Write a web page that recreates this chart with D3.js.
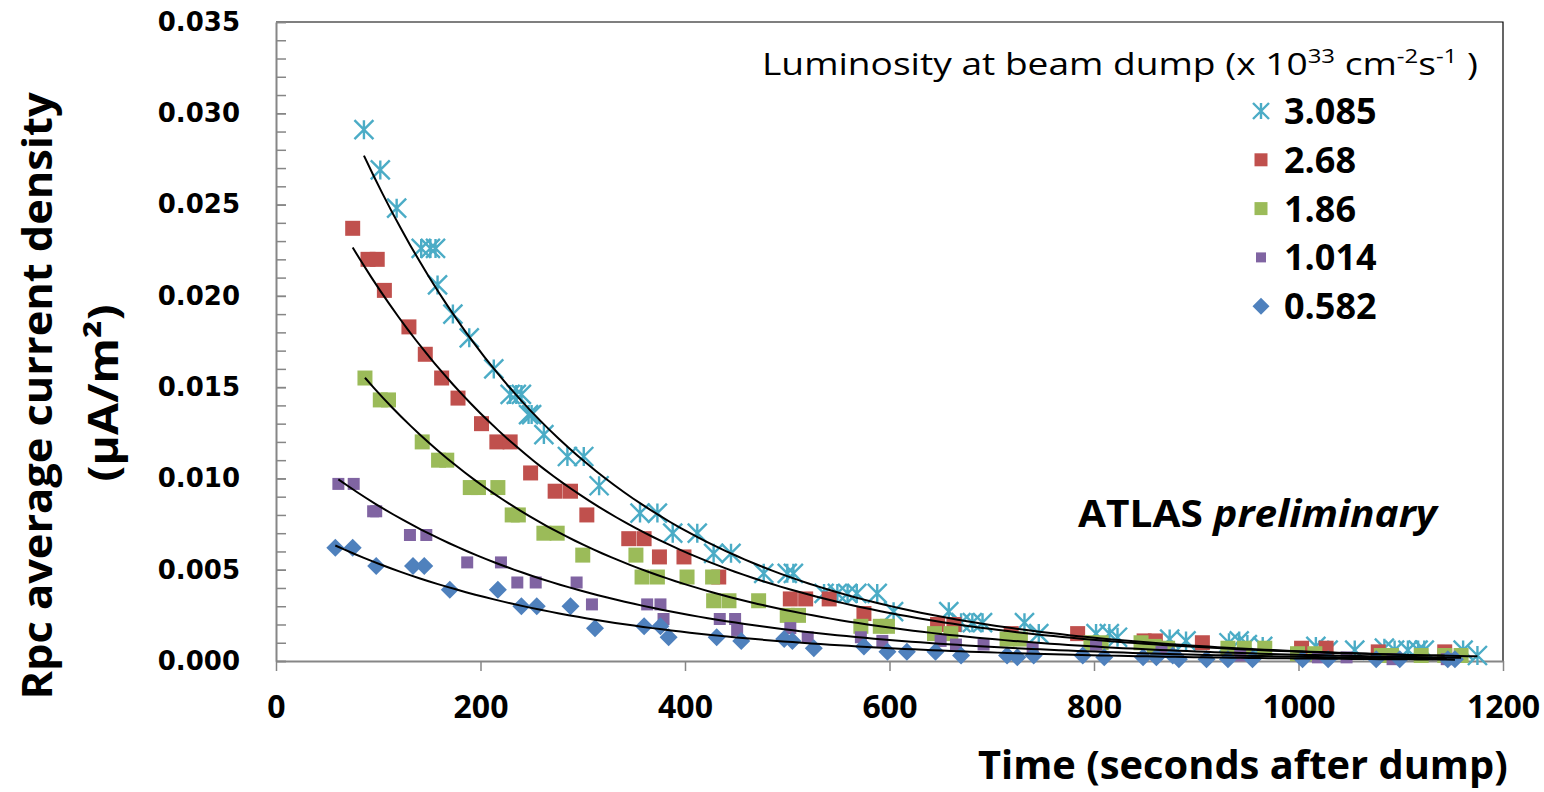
<!DOCTYPE html>
<html>
<head>
<meta charset="utf-8">
<script src="https://cdn.jsdelivr.net/npm/d3@7"></script>
<style>
  body { margin: 0; background: #fff; }
  svg { display: block; }
</style>
</head>
<body>
<svg id="chart" width="1544" height="792"></svg>
<script>
// series names (luminosity at beam dump, x 10^33 cm^-2 s^-1)
const seriesNames = ["3.085", "2.68", "1.86", "1.014", "0.582"];

// [time (s), current density (uA/m2)]
const lum3085 = [
  [86, 0.0291], [102, 0.0269], [118, 0.0248], [142, 0.0226], [151, 0.0226], [156, 0.0226],
  [158, 0.0206], [173, 0.0190], [189, 0.0177], [213, 0.0160], [229, 0.0146], [235, 0.0146],
  [240, 0.0146], [247, 0.0135], [250, 0.0135], [262, 0.0124], [285, 0.0112], [301, 0.0112],
  [316, 0.0096], [356, 0.0081], [373, 0.0081], [388, 0.0070], [412, 0.0070], [428, 0.0059],
  [445, 0.0059], [477, 0.0048], [500, 0.0048], [506, 0.0048], [536, 0.0037], [549, 0.0037],
  [559, 0.0037], [568, 0.0037], [588, 0.0037], [604, 0.0027], [658, 0.0027], [670, 0.0021],
  [681, 0.0021], [691, 0.0021], [732, 0.0021], [746, 0.0015], [802, 0.0015], [815, 0.0015],
  [823, 0.0013], [874, 0.0012], [890, 0.0011], [932, 0.0010], [942, 0.0011], [950, 0.0009],
  [965, 0.0008], [1017, 0.0008], [1029, 0.0006], [1055, 0.0006], [1084, 0.0007], [1094, 0.0006],
  [1107, 0.0006], [1117, 0.0006], [1123, 0.0006], [1161, 0.0006], [1175, 0.0003]
];
const lum268 = [
  [75, 0.0237], [90, 0.0220], [99, 0.0220], [106, 0.0203], [130, 0.0183], [146, 0.0168],
  [162, 0.0155], [178, 0.0144], [201, 0.0130], [216, 0.0120], [229, 0.0120], [249, 0.0103],
  [273, 0.0093], [288, 0.0093], [304, 0.0080], [345, 0.0067], [360, 0.0067], [375, 0.0057],
  [399, 0.0057], [433, 0.0046], [503, 0.0034], [518, 0.0034], [541, 0.0034], [575, 0.0026],
  [647, 0.0020], [663, 0.0020], [719, 0.0015], [784, 0.0015], [849, 0.0011], [860, 0.0011],
  [906, 0.0010], [1003, 0.0007], [1027, 0.0007], [1078, 0.0005], [1143, 0.0005]
];
const lum186 = [
  [87, 0.0155], [102, 0.0143], [110, 0.0143], [143, 0.0120], [159, 0.0110], [167, 0.0110],
  [190, 0.0095], [198, 0.0095], [217, 0.0095], [231, 0.0080], [237, 0.0080], [262, 0.0070],
  [275, 0.0070], [300, 0.0058], [352, 0.0058], [358, 0.0046], [373, 0.0046], [402, 0.0046],
  [427, 0.0046], [428, 0.0033], [443, 0.0033], [472, 0.0033], [500, 0.0025], [511, 0.0025],
  [572, 0.0019], [591, 0.0019], [598, 0.0019], [644, 0.0015], [660, 0.0015], [715, 0.0012],
  [728, 0.0012], [797, 0.0010], [807, 0.0010], [846, 0.0010], [859, 0.0008], [872, 0.0007],
  [931, 0.0007], [947, 0.0007], [967, 0.0007], [999, 0.0004], [1016, 0.0004], [1081, 0.0003],
  [1091, 0.0003], [1120, 0.0003], [1143, 0.0003], [1159, 0.0003]
];
const lum1014 = [
  [61, 0.0097], [76, 0.0097], [95, 0.0082], [98, 0.0082], [131, 0.0069], [147, 0.0069],
  [187, 0.0054], [220, 0.0054], [236, 0.0043], [254, 0.0043], [294, 0.0043], [309, 0.0031],
  [363, 0.0031], [376, 0.0031], [379, 0.0023], [434, 0.0023], [449, 0.0023], [451, 0.0017],
  [503, 0.0018], [520, 0.0013], [572, 0.0013], [593, 0.0011], [650, 0.0011], [665, 0.0009],
  [692, 0.0009], [740, 0.0007], [802, 0.0009], [866, 0.0005], [943, 0.0003], [1019, 0.0002],
  [1047, 0.0002], [1092, 0.0001], [1145, 0.0001]
];
const lum0582 = [
  [58, 0.0062], [75, 0.0062], [98, 0.0052], [134, 0.0052], [145, 0.0052], [170, 0.0039],
  [217, 0.0039], [240, 0.0030], [255, 0.0030], [288, 0.0030], [312, 0.0018], [360, 0.0019],
  [376, 0.0019], [384, 0.0013], [431, 0.0013], [455, 0.0011], [497, 0.0012], [505, 0.0011],
  [526, 0.0007], [575, 0.0008], [598, 0.0005], [617, 0.0005], [645, 0.0005], [670, 0.0003],
  [715, 0.0003], [725, 0.0002], [741, 0.0003], [789, 0.0003], [810, 0.0002], [848, 0.0002],
  [861, 0.0002], [877, 0.0003], [883, 0.0001], [910, 0.0001], [931, 0.0001], [955, 0.0001],
  [1004, 0.0001], [1029, 0.0001], [1076, 0.0001], [1099, 0.0001], [1146, 0.0001], [1153, 0.0001]
];

// exponential trendline y = a * exp(-b * t)
const fitA = [0.0401, 0.0308, 0.0223, 0.0127, 0.0080];
const fitB = [0.00431, 0.0041, 0.00417, 0.0040, 0.00405];

const xTicks = [0, 200, 400, 600, 800, 1000, 1200];
const yTicks = [0, 0.005, 0.01, 0.015, 0.02, 0.025, 0.03, 0.035];

const colors = ["#4BACC6", "#C0504D", "#9BBB59", "#8064A2", "#4F81BD"];
const shapes = ["star", "square", "square", "square", "diamond"];
const sizes = [19, 15, 15, 12, 18];
const allSeries = [lum3085, lum268, lum186, lum1014, lum0582];

const svg = d3.select("#chart");
const plot = { left: 276, right: 1503, top: 22, bottom: 661 };

const x = d3.scaleLinear().domain([0, 1200]).range([plot.left, plot.right]);
const y = d3.scaleLinear().domain([0, 0.035]).range([plot.bottom, plot.top]);

svg.append("rect").attr("width", 1544).attr("height", 792).attr("fill", "#fff");

// plot frame (top + right)
svg.append("path")
  .attr("d", `M${plot.left},${plot.top}H${plot.right}V${plot.bottom}`)
  .attr("fill", "none").attr("stroke", "#000").attr("stroke-width", 1.2);

// minor y ticks
const yMinor = svg.append("g")
  .attr("transform", `translate(${plot.left},0)`)
  .call(d3.axisLeft(y).tickValues(d3.range(0, 36).map(i => i / 1000)).tickSize(-10).tickSizeOuter(0).tickFormat(""));
yMinor.select(".domain").remove();
yMinor.selectAll("line").attr("stroke", "#868686").attr("stroke-width", 1.5);

// y axis
const yAxis = svg.append("g")
  .attr("transform", `translate(${plot.left},0)`)
  .call(d3.axisLeft(y).tickValues(yTicks).tickSize(-10).tickSizeOuter(0).tickPadding(36).tickFormat(d3.format(".3f")));
yAxis.select(".domain").attr("stroke", "#868686").attr("stroke-width", 2);
yAxis.selectAll("line").attr("stroke", "#868686").attr("stroke-width", 1.5);
yAxis.selectAll("text")
  .attr("font-family", "DejaVu Sans").attr("font-weight", "bold").attr("font-size", 26)
  .attr("fill", "#000");

// x axis
const xAxis = svg.append("g")
  .attr("transform", `translate(0,${plot.bottom})`)
  .call(d3.axisBottom(x).tickValues(xTicks).tickSize(10).tickSizeOuter(0).tickFormat(d3.format("d")));
xAxis.select(".domain").attr("stroke", "#868686").attr("stroke-width", 2);
xAxis.selectAll("line").attr("stroke", "#868686").attr("stroke-width", 1.5);
xAxis.selectAll("text")
  .attr("y", 57).attr("dy", null)
  .attr("font-family", "Open Sans").attr("font-weight", "bold").attr("font-size", 32)
  .attr("fill", "#000");

function symbolPath(shape, s) {
  const r = s / 2;
  if (shape === "star") return `M${-r},${-r}L${r},${r}M${-r},${r}L${r},${-r}M0,${-r}V${r}`;
  if (shape === "diamond") return `M0,${-r}L${r},0L0,${r}L${-r},0Z`;
  return `M${-r},${-r}H${r}V${r}H${-r}Z`;
}

function drawMarker(g, shape, s, color) {
  const p = g.append("path").attr("d", symbolPath(shape, s));
  if (shape === "star") p.attr("fill", "none").attr("stroke", color).attr("stroke-width", 2.4);
  else p.attr("fill", color);
}

// markers
allSeries.forEach((data, i) => {
  const g = svg.append("g");
  data.forEach(d => {
    const m = g.append("g").attr("transform", `translate(${x(d[0])},${y(d[1])})`);
    drawMarker(m, shapes[i], sizes[i], colors[i]);
  });
});

// trendlines over each series' time range
const line = d3.line().x(d => x(d[0])).y(d => y(d[1]));
allSeries.forEach((data, i) => {
  const [x0, x1] = d3.extent(data, d => d[0]);
  const pts = d3.range(0, 121).map(k => {
    const t = x0 + (x1 - x0) * k / 120;
    return [t, fitA[i] * Math.exp(-fitB[i] * t)];
  });
  svg.append("path").attr("d", line(pts))
    .attr("fill", "none").attr("stroke", "#000").attr("stroke-width", 2);
});

// text helper: horizontal scale needed to reach a target width
function fitText(t, target) {
  const w = t.node().getBBox().width;
  return target / w;
}

// y title
const yt1 = svg.append("g");
const yt1t = yt1.append("text").attr("text-anchor", "middle")
  .attr("font-family", "Open Sans").attr("font-weight", "bold").attr("font-size", 41)
  .text("Rpc average current density");
yt1.attr("transform", `translate(52,396) rotate(-90) scale(${fitText(yt1t, 608)},1)`);

const yt2 = svg.append("g");
const yt2t = yt2.append("text").attr("text-anchor", "middle")
  .attr("font-family", "Open Sans").attr("font-weight", "bold").attr("font-size", 41)
  .text("(\u00B5A/m\u00B2)");
yt2.attr("transform", `translate(118,393) rotate(-90) scale(${fitText(yt2t, 177)},1)`);

// x title
const xt = svg.append("g");
const xtt = xt.append("text")
  .attr("font-family", "Open Sans").attr("font-weight", "bold").attr("font-size", 40)
  .text("Time (seconds after dump)");
xt.attr("transform", `translate(978,779) scale(${fitText(xtt, 530)},1)`);

// legend title
const lt = svg.append("g");
const ltt = lt.append("text").attr("font-family", "Open Sans").attr("font-size", 31).attr("fill", "#000");
ltt.append("tspan").text("Luminosity at beam dump (x 10");
ltt.append("tspan").attr("font-size", 20).attr("dy", -12).text("33");
ltt.append("tspan").attr("dy", 12).text(" cm");
ltt.append("tspan").attr("font-size", 20).attr("dy", -12).text("-2");
ltt.append("tspan").attr("dy", 12).text("s");
ltt.append("tspan").attr("font-size", 20).attr("dy", -12).text("-1");
ltt.append("tspan").attr("dy", 12).text(" )");
lt.attr("transform", `translate(762,75) scale(${fitText(ltt, 716)},1)`);

// legend entries
const legendSizes = [16, 13, 13, 10, 17];
seriesNames.forEach((name, i) => {
  const cy = 111 + i * 48.8;
  const m = svg.append("g").attr("transform", `translate(1261,${cy})`);
  drawMarker(m, shapes[i], legendSizes[i], colors[i]);
  svg.append("text").attr("x", 1284).attr("y", cy + 13)
    .attr("font-family", "Open Sans").attr("font-weight", "bold").attr("font-size", 36)
    .text(name);
});

// ATLAS preliminary
const at = svg.append("g");
const att = at.append("text").attr("font-family", "Open Sans").attr("font-weight", "bold").attr("font-size", 37);
att.append("tspan").text("ATLAS ");
att.append("tspan").attr("font-style", "italic").text("preliminary");
at.attr("transform", `translate(1078,527) scale(${fitText(att, 362)},1)`);
</script>
</body>
</html>
